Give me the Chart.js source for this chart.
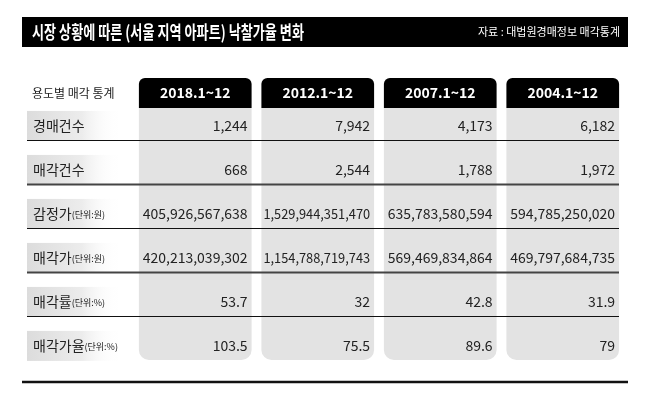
<!DOCTYPE html>
<html>
<head>
<meta charset="utf-8">
<script src="https://cdn.jsdelivr.net/npm/chart.js@4"></script>
<style>
  body { margin: 0; background: #fff; }
  #wrap { width: 650px; height: 404px; }
</style>
</head>
<body>
<div id="wrap"><canvas id="table"></canvas></div>
<script>
const title = '시장 상황에 따른 (서울 지역 아파트) 낙찰가율 변화';
const source = '자료 : 대법원경매정보 매각통계';
const cornerLabel = '용도별 매각 통계';
const periods = ['2018.1~12', '2012.1~12', '2007.1~12', '2004.1~12'];
const rowNames = ['경매건수', '매각건수', '감정가', '매각가', '매각률', '매각가율'];
const rowUnits = ['', '', '(단위:원)', '(단위:원)', '(단위:%)', '(단위:%)'];
const col2018 = ['1,244', '668', '405,926,567,638', '420,213,039,302', '53.7', '103.5'];
const col2012 = ['7,942', '2,544', '1,529,944,351,470', '1,154,788,719,743', '32', '75.5'];
const col2007 = ['4,173', '1,788', '635,783,580,594', '569,469,834,864', '42.8', '89.6'];
const col2004 = ['6,182', '1,972', '594,785,250,020', '469,797,684,735', '31.9', '79'];
const columns = [col2018, col2012, col2007, col2004];

const FONT = '"Noto Sans CJK KR", "Noto Sans", sans-serif';
const Y_MIN = -1.09, Y_MAX = 5.32, BODY_TOP = -0.41;

const tablePlugin = {
  id: 'tableText',
  beforeDraw(chart) {
    const ctx = chart.ctx;
    const y = chart.scales.y;
    ctx.save();
    // title bar
    ctx.fillStyle = '#000';
    ctx.fillRect(22, 17, 606, 30);
    ctx.fillStyle = '#fff';
    ctx.textBaseline = 'middle';
    ctx.font = 'bold 18px ' + FONT;
    ctx.fillText(title, 32, 32, 272);
    ctx.font = '11px ' + FONT;
    ctx.textAlign = 'right';
    ctx.fillText(source, 620, 32, 150);
    // row label backgrounds
    rowNames.forEach((name, i) => {
      const cy = y.getPixelForValue(i);
      const g = ctx.createLinearGradient(27, 0, 118, 0);
      g.addColorStop(0, '#dcdcdc');
      g.addColorStop(0.6, '#ececec');
      g.addColorStop(1, 'rgba(255,255,255,0)');
      ctx.fillStyle = g;
      ctx.fillRect(27, cy - 15, 91, 30);
    });
    ctx.restore();
  },
  afterDatasetsDraw(chart) {
    const ctx = chart.ctx;
    const x = chart.scales.x;
    const y = chart.scales.y;
    const band = x.getPixelForValue(1) - x.getPixelForValue(0);
    const half = band * 0.92 / 2;
    ctx.save();
    ctx.textBaseline = 'middle';
    // separators
    rowNames.slice(0, 5).forEach((name, i) => {
      const ly = Math.round(y.getPixelForValue(i + 0.33)) + 0.5;
      ctx.strokeStyle = (i === 1 || i === 3) ? '#444' : '#111';
      ctx.lineWidth = (i === 1 || i === 3) ? 2 : 1.2;
      ctx.beginPath();
      ctx.moveTo(27, ly);
      ctx.lineTo(619, ly);
      ctx.stroke();
    });
    ctx.strokeStyle = '#111';
    ctx.lineWidth = 2.5;
    ctx.beginPath();
    ctx.moveTo(22, 382);
    ctx.lineTo(628, 382);
    ctx.stroke();
    // header
    const hy = y.getPixelForValue((Y_MIN + BODY_TOP) / 2);
    ctx.fillStyle = '#222';
    ctx.font = '12px ' + FONT;
    ctx.fillText(cornerLabel, 32, hy, 90);
    ctx.fillStyle = '#fff';
    ctx.font = 'bold 14px ' + FONT;
    ctx.textAlign = 'center';
    periods.forEach((p, c) => ctx.fillText(p, x.getPixelForValue(c), hy, 80));
    // row labels
    rowNames.forEach((name, i) => {
      const cy = y.getPixelForValue(i);
      ctx.textAlign = 'left';
      ctx.fillStyle = '#222';
      ctx.font = '14px ' + FONT;
      const w = Math.min(ctx.measureText(name).width, 56);
      ctx.fillText(name, 33, cy, 56);
      if (rowUnits[i]) {
        ctx.font = '9px ' + FONT;
        ctx.fillText(rowUnits[i], 33 + w, cy + 1, 38);
      }
    });
    // values
    ctx.fillStyle = '#222';
    ctx.font = '14px ' + FONT;
    ctx.textAlign = 'right';
    columns.forEach((col, c) => {
      const right = x.getPixelForValue(c) + half - 4;
      col.forEach((v, i) => ctx.fillText(v, right, y.getPixelForValue(i), half * 2 - 6));
    });
    ctx.restore();
  }
};

new Chart(document.getElementById('table'), {
  type: 'bar',
  data: {
    labels: periods,
    datasets: [
      {
        data: periods.map(() => [BODY_TOP, Y_MAX]),
        backgroundColor: '#e3e3e3',
        borderRadius: { topLeft: 0, topRight: 0, bottomLeft: 10, bottomRight: 10 },
        borderSkipped: false,
        barPercentage: 0.92,
        categoryPercentage: 1,
        grouped: false,
      },
      {
        data: periods.map(() => [Y_MIN, BODY_TOP]),
        backgroundColor: '#000',
        borderRadius: { topLeft: 6, topRight: 6, bottomLeft: 0, bottomRight: 0 },
        borderSkipped: false,
        barPercentage: 0.92,
        categoryPercentage: 1,
        grouped: false,
      },
    ],
  },
  options: {
    responsive: true,
    maintainAspectRatio: false,
    animation: false,
    layout: { padding: { left: 134, right: 26, top: 78, bottom: 44 } },
    plugins: { legend: { display: false }, tooltip: { enabled: false } },
    scales: {
      x: { display: false, offset: true },
      y: { display: false, reverse: true, min: Y_MIN, max: Y_MAX },
    },
  },
  plugins: [tablePlugin],
});
</script>
</body>
</html>
